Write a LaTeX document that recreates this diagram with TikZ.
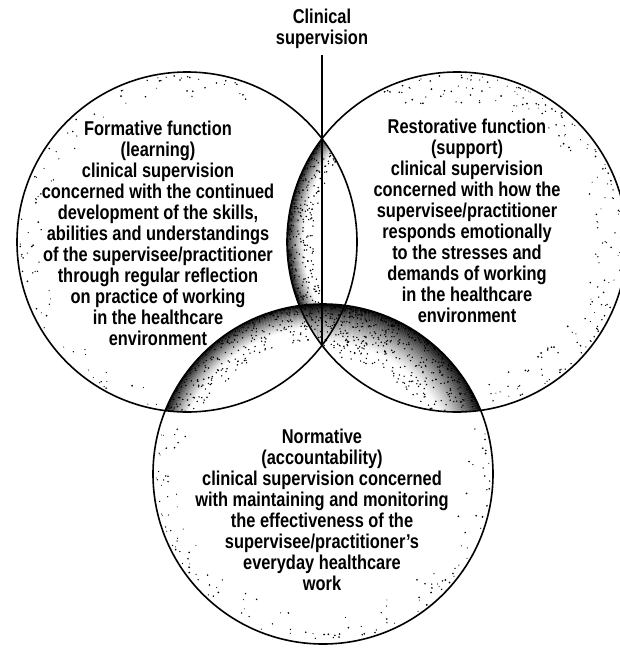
\documentclass[tikz,border=0pt]{standalone}
\usepackage{fontspec}
\setmainfont{Liberation Sans}[FakeStretch=0.82]
\begin{document}
\begin{tikzpicture}[x=1pt,y=-1pt,
  circ/.style={draw=black, line width=1.6pt},
  lbl/.style={align=center, inner sep=0pt, font=\fontsize{20}{21}\selectfont\bfseries},
  leader/.style={draw=black, line width=1.1pt},
  dotfill/.style={fill=black}]
\useasboundingbox (0,0) rectangle (620,648);
\def\rad{170}
\coordinate (L) at (187,242);
\coordinate (R) at (457,242);
\coordinate (B) at (323,474);
\pgfmathsetseed{4711}
% ---- lens L and R: dark along the left arc (edge of R)
\begin{scope}
  \clip (L) circle (\rad);
  \clip (R) circle (\rad);
  \foreach \i in {0,...,18} {
    \pgfmathsetmacro\g{100*(1-\i/18)^1.3}
    \draw[line width=1.2pt, black!\g] (R) circle ({\rad-\i});
  }
  \foreach \k in {1,...,300} {
    \pgfmathsetmacro\u{rnd}
    \pgfmathsetmacro\a{145+70*rnd}
    \pgfmathsetmacro\d{\rad-26*\u*\u}
    \fill[dotfill] (R) ++(\a:\d) circle (0.8);
  }
\end{scope}
% ---- B and L: dark along the arc of B
\begin{scope}
  \clip (B) circle (\rad);
  \clip (L) circle (\rad);
  \foreach \i in {0,...,24} {
    \pgfmathsetmacro\g{100*(1-\i/24)^1.3}
    \draw[line width=1.2pt, black!\g] (B) circle ({\rad-\i});
  }
  \foreach \k in {1,...,400} {
    \pgfmathsetmacro\u{rnd}
    \pgfmathsetmacro\a{198+80*rnd}
    \pgfmathsetmacro\d{\rad-36*\u*\u}
    \fill[dotfill] (B) ++(\a:\d) circle (0.8);
  }
\end{scope}
% ---- B and R: wider dark band along the arc of B
\begin{scope}
  \clip (B) circle (\rad);
  \clip (R) circle (\rad);
  \foreach \i in {0,...,40} {
    \pgfmathsetmacro\g{100*(1-\i/40)^1.3}
    \draw[line width=1.2pt, black!\g] (B) circle ({\rad-\i});
  }
  \foreach \k in {1,...,600} {
    \pgfmathsetmacro\u{rnd}
    \pgfmathsetmacro\v{rnd}
    \pgfmathsetmacro\a{341-80*\v^0.8}
    \pgfmathsetmacro\d{\rad-52*\u*\u}
    \fill[dotfill] (B) ++(\a:\d) circle (0.8);
  }
\end{scope}
% ---- sparse stipple along the outer rims
\foreach \k in {1,...,90} {
  \pgfmathsetmacro\u{rnd}
  \pgfmathsetmacro\a{100+200*rnd}
  \pgfmathsetmacro\d{\rad-3-22*\u*\u}
  \pgfmathsetmacro\s{0.5+0.5*rnd}
  \fill[dotfill] (L) ++(\a:\d) circle (\s);
}
\foreach \k in {1,...,200} {
  \pgfmathsetmacro\u{rnd}
  \pgfmathsetmacro\a{-118+196*rnd}
  \pgfmathsetmacro\d{\rad-3-28*\u*\u}
  \pgfmathsetmacro\s{0.5+0.5*rnd}
  \fill[dotfill] (R) ++(\a:\d) circle (\s);
}
\foreach \k in {1,...,130} {
  \pgfmathsetmacro\u{rnd}
  \pgfmathsetmacro\a{-18+216*rnd}
  \pgfmathsetmacro\d{\rad-3-26*\u*\u}
  \pgfmathsetmacro\s{0.5+0.5*rnd}
  \fill[dotfill] (B) ++(\a:\d) circle (\s);
}
% ---- circles
\draw[circ] (L) circle (\rad);
\draw[circ] (R) circle (\rad);
\draw[circ] (B) circle (\rad);
% ---- texts
\node[lbl] (clin) at (322,29) {Clinical\\supervision};
\node[lbl] (form) at (158,233) {Formative function\\(learning)\\clinical supervision\\concerned with the continued\\development of the skills,\\abilities and understandings\\of the supervisee/practitioner\\through regular reflection\\on practice of working\\in the healthcare\\environment};
\node[lbl] (rest) at (467,221) {Restorative function\\(support)\\clinical supervision\\concerned with how the\\supervisee/practitioner\\responds emotionally\\to the stresses and\\demands of working\\in the healthcare\\environment};
\node[lbl] (norm) at (322,510) {Normative\\(accountability)\\clinical supervision concerned\\with maintaining and monitoring\\the effectiveness of the\\supervisee/practitioner's\\everyday healthcare\\work};
% ---- leader
\coordinate (lrb) at (322,346);
\draw[leader, shorten <=6pt] (clin) -- (lrb);
\end{tikzpicture}
\end{document}
